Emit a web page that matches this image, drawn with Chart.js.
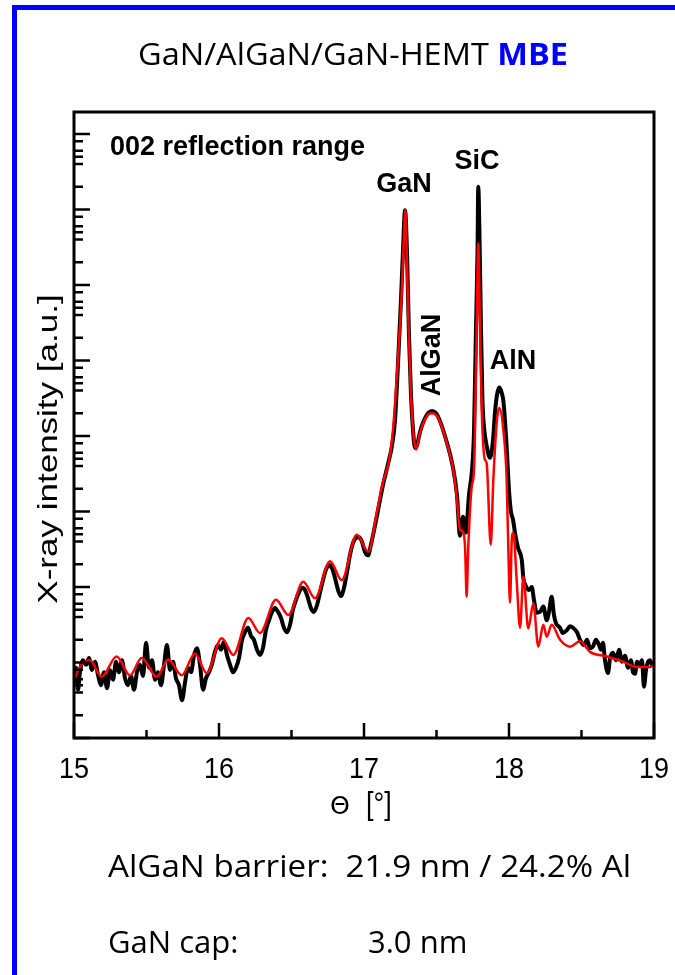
<!DOCTYPE html>
<html>
<head>
<meta charset="utf-8">
<script src="https://cdn.jsdelivr.net/npm/chart.js@4.4.1/dist/chart.umd.min.js"></script>
<style>
  html, body { margin: 0; padding: 0; background: #fff; }
  body { width: 675px; height: 975px; position: relative; overflow: hidden; }
  #frame { position: absolute; left: 12px; top: 5px; width: 700px; height: 1000px;
           border-top: 5px solid #0000ff; border-left: 5px solid #0000ff; }
  canvas { position: absolute; left: 0; top: 0; }
</style>
</head>
<body>
<div id="frame"></div>
<canvas id="xrd" width="675" height="975"></canvas>
<script>
// simulation (red), log10 of intensity in a.u.
const redTheta = [
  15.000, 15.041, 15.110, 15.191, 15.294, 15.386, 15.467, 15.570, 15.650, 15.743,
  15.834, 15.915, 16.019, 16.099, 16.202, 16.283, 16.393, 16.478, 16.581, 16.662,
  16.766, 16.846, 16.950, 17.030, 17.088, 17.131, 17.172, 17.200, 17.234, 17.260,
  17.276, 17.285, 17.294, 17.306, 17.322, 17.340, 17.359, 17.386, 17.432, 17.467,
  17.512, 17.570, 17.616, 17.639, 17.662, 17.681, 17.697, 17.708, 17.719, 17.743,
  17.759, 17.769, 17.777, 17.788, 17.800, 17.812, 17.823, 17.835, 17.846, 17.874,
  17.892, 17.915, 17.933, 17.961, 17.984, 17.995, 18.007, 18.019, 18.030, 18.053,
  18.076, 18.099, 18.133, 18.168, 18.202, 18.237, 18.260, 18.294, 18.352, 18.421,
  18.490, 18.559, 18.674, 18.788, 18.881, 18.972, 19.000
];
const redLogI = [
  0.77, 0.94, 1.03, 0.81, 1.08, 0.83, 1.06, 0.81, 1.04, 0.83,
  1.12, 0.86, 1.32, 1.10, 1.59, 1.39, 1.83, 1.63, 2.07, 1.85,
  2.34, 2.09, 2.69, 2.47, 2.98, 3.39, 3.66, 4.08, 5.01, 5.89,
  6.66, 6.99, 6.46, 5.54, 4.61, 4.05, 3.82, 4.04, 4.26, 4.30,
  4.24, 3.91, 3.55, 3.20, 2.76, 2.73, 2.53, 1.87, 2.53, 3.33,
  3.55, 4.48, 5.44, 6.55, 5.44, 4.34, 3.86, 3.68, 3.64, 2.56,
  3.42, 4.17, 4.37, 4.08, 3.42, 2.53, 1.79, 2.62, 2.72, 2.09,
  1.46, 2.14, 1.45, 1.78, 1.21, 1.50, 1.34, 1.50, 1.30, 1.21,
  1.28, 1.14, 1.08, 1.01, 0.94, 0.94, 0.97
];

// measurement (black)
const blackTheta = [
  15.000, 15.014, 15.028, 15.041, 15.062, 15.083, 15.103, 15.124, 15.145, 15.166,
  15.186, 15.207, 15.228, 15.248, 15.269, 15.290, 15.310, 15.331, 15.352, 15.372,
  15.393, 15.414, 15.434, 15.455, 15.476, 15.497, 15.517, 15.538, 15.559, 15.579,
  15.600, 15.621, 15.641, 15.662, 15.683, 15.703, 15.724, 15.745, 15.766, 15.786,
  15.807, 15.828, 15.848, 15.869, 15.890, 15.910, 15.931, 15.952, 15.972, 15.993,
  16.014, 16.034, 16.055, 16.076, 16.097, 16.117, 16.138, 16.159, 16.179, 16.200,
  16.221, 16.241, 16.262, 16.283, 16.303, 16.324, 16.345, 16.366, 16.386, 16.407,
  16.428, 16.448, 16.469, 16.490, 16.510, 16.531, 16.552, 16.572, 16.593, 16.614,
  16.634, 16.655, 16.676, 16.697, 16.717, 16.738, 16.759, 16.779, 16.800, 16.821,
  16.841, 16.862, 16.883, 16.903, 16.924, 16.945, 16.966, 16.986, 17.007, 17.028,
  17.048, 17.069, 17.090, 17.110, 17.131, 17.152, 17.172, 17.193, 17.214, 17.234,
  17.255, 17.269, 17.283, 17.297, 17.310, 17.324, 17.338, 17.352, 17.366, 17.386,
  17.428, 17.469, 17.510, 17.566, 17.614, 17.641, 17.662, 17.683, 17.703, 17.724,
  17.745, 17.759, 17.772, 17.783, 17.788, 17.797, 17.807, 17.817, 17.828, 17.848,
  17.869, 17.890, 17.903, 17.917, 17.933, 17.948, 17.962, 17.984, 18.000, 18.014,
  18.028, 18.041, 18.062, 18.088, 18.099, 18.117, 18.138, 18.157, 18.172, 18.191,
  18.214, 18.237, 18.260, 18.276, 18.294, 18.310, 18.324, 18.352, 18.372, 18.400,
  18.421, 18.441, 18.469, 18.490, 18.517, 18.538, 18.559, 18.579, 18.600, 18.621,
  18.634, 18.648, 18.662, 18.683, 18.697, 18.717, 18.738, 18.759, 18.779, 18.800,
  18.821, 18.841, 18.855, 18.869, 18.883, 18.903, 18.917, 18.931, 18.945, 18.959,
  18.972, 18.986, 19.000
];
const blackLogI = [
  0.73, 0.93, 0.64, 0.87, 1.03, 0.97, 1.06, 0.90, 1.01, 0.83,
  0.70, 0.87, 0.66, 0.90, 0.77, 1.01, 0.87, 1.03, 0.79, 0.70,
  0.82, 0.64, 0.87, 0.97, 0.82, 1.26, 0.93, 1.03, 0.77, 0.87,
  0.70, 0.97, 1.23, 0.90, 1.01, 0.79, 0.70, 0.50, 0.74, 0.93,
  0.87, 1.10, 1.19, 0.97, 0.64, 0.79, 0.87, 0.98, 1.14, 1.23,
  1.17, 1.27, 1.10, 0.97, 0.87, 0.93, 1.06, 1.30, 1.40, 1.46,
  1.35, 1.30, 1.17, 1.10, 1.19, 1.43, 1.56, 1.67, 1.72, 1.67,
  1.59, 1.46, 1.40, 1.50, 1.70, 1.83, 1.93, 1.99, 1.96, 1.85,
  1.72, 1.67, 1.76, 1.93, 2.09, 2.23, 2.29, 2.25, 2.12, 1.96,
  1.88, 1.99, 2.20, 2.42, 2.58, 2.65, 2.66, 2.60, 2.46, 2.42,
  2.56, 2.75, 2.95, 3.15, 3.35, 3.52, 3.68, 3.87, 4.21, 4.94,
  5.80, 6.46, 6.99, 6.40, 5.34, 4.54, 4.08, 3.84, 3.88, 4.05,
  4.26, 4.33, 4.26, 3.95, 3.58, 3.22, 2.68, 2.93, 2.72, 3.22,
  3.55, 4.08, 5.40, 6.46, 7.30, 6.60, 5.40, 4.48, 4.11, 3.85,
  3.71, 3.95, 4.30, 4.54, 4.64, 4.58, 4.45, 3.85, 3.28, 2.99,
  2.89, 2.72, 2.52, 2.36, 2.12, 2.01, 1.96, 2.00, 1.83, 1.66,
  1.67, 1.74, 1.56, 1.67, 1.87, 1.63, 1.52, 1.46, 1.39, 1.43,
  1.48, 1.46, 1.40, 1.30, 1.23, 1.30, 1.19, 1.21, 1.30, 1.23,
  1.17, 1.26, 1.03, 0.86, 1.06, 1.13, 1.03, 1.17, 1.01, 1.09,
  0.93, 1.03, 0.87, 0.85, 1.01, 0.97, 1.03, 0.68, 0.90, 1.01,
  1.03, 0.97, 1.01
];

// axis ticks
const xMajorTicks = [15, 16, 17, 18, 19];
const xMinorTicks = [15.5, 16.5, 17.5, 18.5];
const yDecades = [1, 1e1, 1e2, 1e3, 1e4, 1e5, 1e6, 1e7, 1e8];
const yMinorFactors = [2, 4, 5, 6, 8];
const yMax = 1.95e8;

const peakLabels = [
  { text: 'GaN', x: 404, y: 192, rot: false },
  { text: 'SiC', x: 477, y: 169, rot: false },
  { text: 'AlN', x: 513, y: 369, rot: false },
  { text: 'AlGaN', x: 440, y: 355, rot: true }
];

function toPoints(theta, logI) {
  return theta.map((t, i) => ({ x: t, y: Math.pow(10, logI[i]) }));
}

function fitLine(ctx, parts, x0, x1, base) {
  let total = 0;
  parts.forEach(p => { ctx.font = p.font; p.w = ctx.measureText(p.text).width; total += p.w; });
  const k = x1 ? (x1 - x0) / total : 1;
  ctx.save();
  ctx.translate(x0, base);
  ctx.scale(k, 1);
  ctx.textAlign = 'left';
  ctx.textBaseline = 'alphabetic';
  let cx = 0;
  parts.forEach(p => { ctx.font = p.font; ctx.fillStyle = p.color || '#000'; ctx.fillText(p.text, cx, 0); cx += p.w; });
  ctx.restore();
}

const decor = {
  id: 'decor',
  afterDraw(chart) {
    const ctx = chart.ctx;
    const a = chart.chartArea;
    const xs = chart.scales.x, ys = chart.scales.y;
    ctx.save();
    ctx.strokeStyle = '#000';
    ctx.fillStyle = '#000';

    // inward ticks
    ctx.lineWidth = 2.5;
    ctx.beginPath();
    xMajorTicks.forEach(v => { const p = xs.getPixelForValue(v); ctx.moveTo(p, a.bottom); ctx.lineTo(p, a.bottom - 15); });
    xMinorTicks.forEach(v => { const p = xs.getPixelForValue(v); ctx.moveTo(p, a.bottom); ctx.lineTo(p, a.bottom - 8); });
    yDecades.forEach(d => {
      const p = ys.getPixelForValue(d);
      ctx.moveTo(a.left, p); ctx.lineTo(a.left + 16, p);
      yMinorFactors.forEach(f => {
        if (d * f < yMax) { const q = ys.getPixelForValue(d * f); ctx.moveTo(a.left, q); ctx.lineTo(a.left + 9, q); }
      });
    });
    ctx.stroke();

    // frame
    ctx.lineWidth = 3;
    ctx.strokeRect(a.left, a.top, a.right - a.left, a.bottom - a.top);

    // x tick labels
    ctx.font = '27px "Liberation Sans", Arial, sans-serif';
    ctx.textAlign = 'center';
    ctx.textBaseline = 'alphabetic';
    xMajorTicks.forEach(v => {
      ctx.save();
      ctx.translate(xs.getPixelForValue(v), 778);
      ctx.scale(1, 1.12);
      ctx.fillText(String(v), 0, 0);
      ctx.restore();
    });

    // x axis title
    ctx.save();
    ctx.translate(340, 814);
    ctx.scale(1.15, 1.15);
    ctx.font = '22px "DejaVu Sans", "Liberation Sans", sans-serif';
    ctx.fillText('\u0398', 0, 0);
    ctx.restore();
    ctx.save();
    ctx.translate(366, 814);
    ctx.scale(1, 1.15);
    ctx.textAlign = 'left';
    ctx.font = '27px "Liberation Sans", Arial, sans-serif';
    ctx.fillText('[\u00b0]', 0, 0);
    ctx.restore();

    // y axis title
    ctx.save();
    ctx.translate(57, 449);
    ctx.rotate(-Math.PI / 2);
    ctx.scale(1.25, 1);
    ctx.font = '28px "Liberation Sans", Arial, sans-serif';
    ctx.textAlign = 'center';
    ctx.fillText('X-ray intensity [a.u.]', 0, 0);
    ctx.restore();

    // labels inside the plot
    ctx.font = 'bold 27px "Liberation Sans", Arial, sans-serif';
    ctx.textAlign = 'left';
    ctx.fillText('002 reflection range', 110, 155);
    ctx.textAlign = 'center';
    peakLabels.forEach(l => {
      ctx.save();
      ctx.translate(l.x, l.y);
      if (l.rot) ctx.rotate(-Math.PI / 2);
      ctx.fillText(l.text, 0, 0);
      ctx.restore();
    });

    // slide texts
    const reg = '31px "Open Sans", "Noto Sans", sans-serif';
    const bold = 'bold 31px "Open Sans", "Noto Sans", sans-serif';
    fitLine(ctx, [{ text: 'GaN/AlGaN/GaN-HEMT ', font: reg }, { text: 'MBE', font: bold, color: '#0000ff' }], 138, 568, 65);
    fitLine(ctx, [{ text: 'AlGaN barrier:  21.9 nm / 24.2% Al', font: reg }], 108, 631, 877);
    fitLine(ctx, [{ text: 'GaN cap:', font: reg }], 108, 0, 953);
    fitLine(ctx, [{ text: '3.0 nm', font: reg }], 368, 0, 953);

    ctx.restore();
  }
};

const ctx = document.getElementById('xrd').getContext('2d');
new Chart(ctx, {
  type: 'line',
  data: {
    datasets: [
      {
        label: 'simulation',
        data: toPoints(redTheta, redLogI),
        borderColor: '#ff0000',
        borderWidth: 2.5,
        pointRadius: 0,
        cubicInterpolationMode: 'monotone'
      },
      {
        label: 'measurement',
        data: toPoints(blackTheta, blackLogI),
        borderColor: '#000000',
        borderWidth: 4,
        pointRadius: 0,
        cubicInterpolationMode: 'monotone'
      }
    ]
  },
  options: {
    responsive: false,
    animation: false,
    layout: { padding: { left: 74, top: 112, right: 21, bottom: 237 } },
    plugins: { legend: { display: false }, tooltip: { enabled: false } },
    scales: {
      x: { type: 'linear', min: 15, max: 19, display: false },
      y: { type: 'logarithmic', min: 1, max: yMax, display: false }
    }
  },
  plugins: [decor]
});
</script>
</body>
</html>
